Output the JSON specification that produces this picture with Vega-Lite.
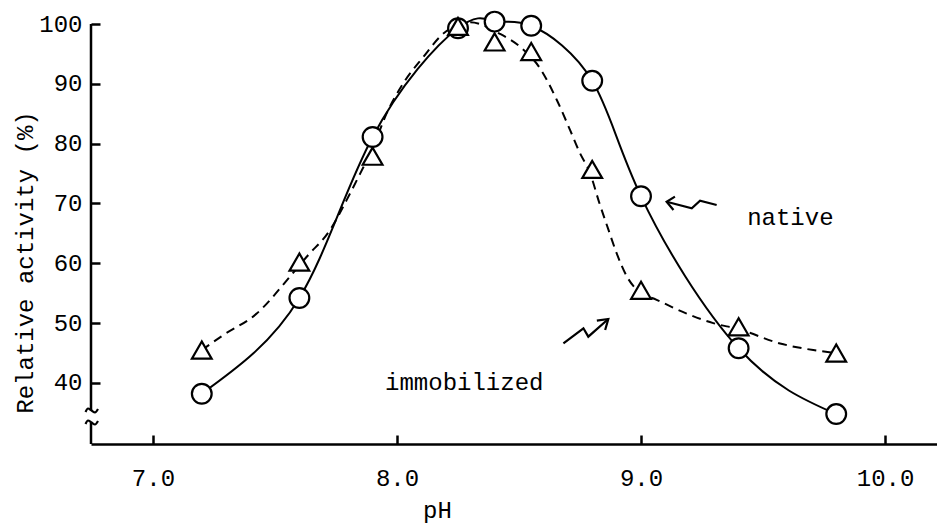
{
  "$schema": "https://vega.github.io/schema/vega-lite/v6.json",
  "width": 846,
  "height": 420,
  "autosize": {"type": "none"},
  "padding": {"left": 91, "top": 24, "right": 0, "bottom": 80},
  "background": "white",
  "config": {
    "view": {"stroke": null},
    "axis": {
      "labelFont": "Liberation Mono",
      "labelFontSize": 24,
      "labelColor": "black",
      "titleFont": "Liberation Mono",
      "titleFontSize": 24,
      "titleFontWeight": "normal",
      "titleColor": "black",
      "domainColor": "black",
      "domainWidth": 2.5,
      "tickColor": "black",
      "tickWidth": 2.5,
      "tickSize": -9,
      "grid": false
    }
  },
  "datasets": {
    "measured": [
      {"pH": 7.2, "activity": 38.2, "series": "native"},
      {"pH": 7.6, "activity": 54.2, "series": "native"},
      {"pH": 7.9, "activity": 81.1, "series": "native"},
      {"pH": 8.25, "activity": 99.3, "series": "native"},
      {"pH": 8.4, "activity": 100.4, "series": "native"},
      {"pH": 8.55, "activity": 99.7, "series": "native"},
      {"pH": 8.8, "activity": 90.5, "series": "native"},
      {"pH": 9.0, "activity": 71.2, "series": "native"},
      {"pH": 9.4, "activity": 45.8, "series": "native"},
      {"pH": 9.8, "activity": 34.8, "series": "native"},
      {"pH": 7.2, "activity": 45.5, "series": "immobilized"},
      {"pH": 7.6, "activity": 60.2, "series": "immobilized"},
      {"pH": 7.9, "activity": 77.9, "series": "immobilized"},
      {"pH": 8.25, "activity": 99.6, "series": "immobilized"},
      {"pH": 8.4, "activity": 97.0, "series": "immobilized"},
      {"pH": 8.55, "activity": 95.4, "series": "immobilized"},
      {"pH": 8.8, "activity": 75.7, "series": "immobilized"},
      {"pH": 9.0, "activity": 55.5, "series": "immobilized"},
      {"pH": 9.4, "activity": 49.4, "series": "immobilized"},
      {"pH": 9.8, "activity": 45.0, "series": "immobilized"}
    ],
    "immobilized_curve": [
      {"pH": 7.2, "activity": 45.5},
      {"pH": 7.288, "activity": 48.0},
      {"pH": 7.425, "activity": 51.6},
      {"pH": 7.562, "activity": 57.8},
      {"pH": 7.63, "activity": 61.1},
      {"pH": 7.726, "activity": 65.6},
      {"pH": 7.794, "activity": 70.6},
      {"pH": 7.849, "activity": 75.0},
      {"pH": 7.903, "activity": 79.5},
      {"pH": 7.958, "activity": 85.1},
      {"pH": 8.026, "activity": 90.1},
      {"pH": 8.108, "activity": 94.5},
      {"pH": 8.19, "activity": 98.4},
      {"pH": 8.25, "activity": 99.8},
      {"pH": 8.30, "activity": 100.3},
      {"pH": 8.42, "activity": 98.4},
      {"pH": 8.504, "activity": 96.2},
      {"pH": 8.586, "activity": 92.6},
      {"pH": 8.655, "activity": 87.3},
      {"pH": 8.709, "activity": 82.3},
      {"pH": 8.75, "activity": 78.4},
      {"pH": 8.79, "activity": 75.2},
      {"pH": 8.83, "activity": 70.0},
      {"pH": 8.865, "activity": 65.8},
      {"pH": 8.90, "activity": 61.7},
      {"pH": 8.942, "activity": 57.8},
      {"pH": 8.99, "activity": 55.3},
      {"pH": 9.064, "activity": 53.9},
      {"pH": 9.187, "activity": 51.6},
      {"pH": 9.296, "activity": 50.0},
      {"pH": 9.40, "activity": 49.0},
      {"pH": 9.57, "activity": 46.6},
      {"pH": 9.706, "activity": 45.5},
      {"pH": 9.8, "activity": 45.0}
    ],
    "arrows": [
      {"g": "n_body", "i": 0, "x": 9.310, "y": 69.75},
      {"g": "n_body", "i": 1, "x": 9.242, "y": 70.47},
      {"g": "n_body", "i": 2, "x": 9.208, "y": 69.20},
      {"g": "n_body", "i": 3, "x": 9.105, "y": 70.30},
      {"g": "n_head", "i": 0, "x": 9.139, "y": 71.14},
      {"g": "n_head", "i": 1, "x": 9.105, "y": 70.30},
      {"g": "n_head", "i": 2, "x": 9.133, "y": 68.91},
      {"g": "i_body", "i": 0, "x": 8.682, "y": 46.63},
      {"g": "i_body", "i": 1, "x": 8.764, "y": 49.14},
      {"g": "i_body", "i": 2, "x": 8.784, "y": 47.74},
      {"g": "i_body", "i": 3, "x": 8.866, "y": 50.69},
      {"g": "i_head", "i": 0, "x": 8.819, "y": 50.41},
      {"g": "i_head", "i": 1, "x": 8.866, "y": 50.69},
      {"g": "i_head", "i": 2, "x": 8.853, "y": 48.85}
    ],
    "labels": [
      {"text": "native", "x": 9.435, "y": 66.4},
      {"text": "immobilized", "x": 7.951, "y": 38.83}
    ],
    "yline": [
      {"y1": 100, "y2": 35.4},
      {"y1": 33.39, "y2": 29.8}
    ],
    "breaks": [
      {"g": "upper", "x": 6.7235, "y": 35.15},
      {"g": "upper", "x": 6.7337, "y": 35.73},
      {"g": "upper", "x": 6.748, "y": 35.40},
      {"g": "upper", "x": 6.7624, "y": 35.07},
      {"g": "upper", "x": 6.7747, "y": 35.65},
      {"g": "lower", "x": 6.7235, "y": 33.14},
      {"g": "lower", "x": 6.7337, "y": 33.73},
      {"g": "lower", "x": 6.748, "y": 33.39},
      {"g": "lower", "x": 6.7624, "y": 33.06},
      {"g": "lower", "x": 6.7747, "y": 33.65}
    ]
  },
  "layer": [
    {
      "data": {"name": "yline"},
      "mark": {"type": "rule", "color": "black", "strokeWidth": 2.5},
      "encoding": {
        "x": {"datum": 6.746, "type": "quantitative", "scale": {"domain": [6.746, 10.213], "nice": false, "zero": false}},
        "y": {"field": "y1", "type": "quantitative", "scale": {"domain": [29.8, 100], "nice": false, "zero": false}},
        "y2": {"field": "y2"}
      }
    },
    {
      "data": {"name": "breaks"},
      "mark": {"type": "line", "interpolate": "monotone", "color": "black", "strokeWidth": 2.2, "clip": false},
      "encoding": {
        "x": {"field": "x", "type": "quantitative"},
        "y": {"field": "y", "type": "quantitative"},
        "detail": {"field": "g"}
      }
    },
    {
      "data": {"name": "measured"},
      "transform": [{"filter": "datum.series === 'native'"}],
      "mark": {"type": "line", "interpolate": "natural", "color": "black", "strokeWidth": 2},
      "encoding": {
        "x": {
          "field": "pH", "type": "quantitative",
          "scale": {"domain": [6.746, 10.213], "nice": false, "zero": false},
          "axis": {"values": [7, 8, 9, 10], "format": ".1f", "title": "pH", "labelPadding": 31, "titleX": 346, "titleY": 66, "titleBaseline": "middle", "titleAlign": "center"}
        },
        "y": {
          "field": "activity", "type": "quantitative",
          "scale": {"domain": [29.8, 100], "nice": false, "zero": false},
          "axis": {"values": [40, 50, 60, 70, 80, 90, 100], "domain": false, "title": "Relative activity (%)", "labelPadding": 18, "titleX": -66, "titleY": 238, "titleBaseline": "middle", "titleAlign": "center"}
        }
      }
    },
    {
      "data": {"name": "immobilized_curve"},
      "mark": {"type": "line", "interpolate": "monotone", "color": "black", "strokeWidth": 2, "strokeDash": [9, 6]},
      "encoding": {
        "x": {"field": "pH", "type": "quantitative"},
        "y": {"field": "activity", "type": "quantitative"}
      }
    },
    {
      "data": {"name": "measured"},
      "mark": {"type": "point", "filled": true, "fill": "white", "stroke": "black", "strokeWidth": 2.2, "size": 390, "opacity": 1},
      "encoding": {
        "x": {"field": "pH", "type": "quantitative"},
        "y": {"field": "activity", "type": "quantitative"},
        "shape": {"field": "series", "type": "nominal", "scale": {"domain": ["native", "immobilized"], "range": ["circle", "triangle-up"]}, "legend": null}
      }
    },
    {
      "data": {"name": "arrows"},
      "mark": {"type": "line", "color": "black", "strokeWidth": 2.2, "interpolate": "linear"},
      "encoding": {
        "x": {"field": "x", "type": "quantitative"},
        "y": {"field": "y", "type": "quantitative"},
        "detail": {"field": "g"},
        "order": {"field": "i"}
      }
    },
    {
      "data": {"name": "labels"},
      "mark": {"type": "text", "font": "Liberation Mono", "fontSize": 24, "align": "left", "baseline": "alphabetic", "color": "black"},
      "encoding": {
        "x": {"field": "x", "type": "quantitative"},
        "y": {"field": "y", "type": "quantitative"},
        "text": {"field": "text"}
      }
    }
  ]
}
